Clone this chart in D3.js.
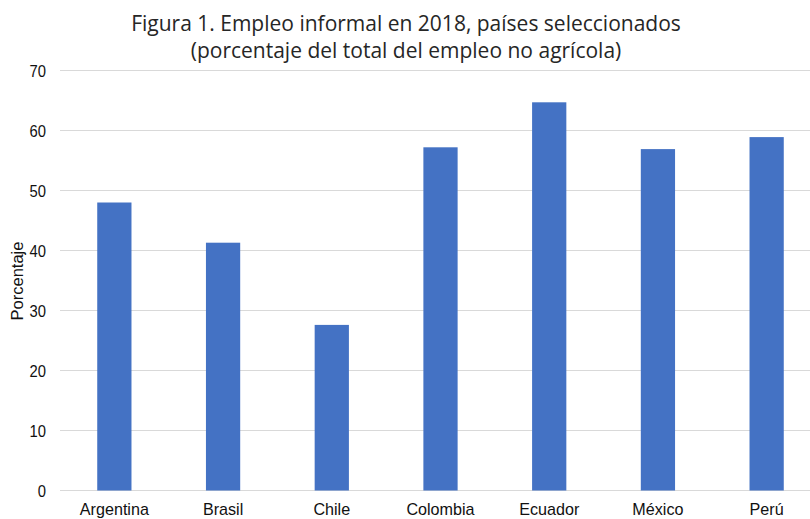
<!DOCTYPE html>
<html>
<head>
<meta charset="utf-8">
<script src="https://cdn.jsdelivr.net/npm/d3@7"></script>
<style>
  body { margin: 0; background: #fff; }
  svg { display: block; }
</style>
</head>
<body>
<div id="chart"></div>
<script>
// Data
const paises = ["Argentina", "Brasil", "Chile", "Colombia", "Ecuador", "México", "Perú"];
const valores = [48.0, 41.3, 27.6, 57.2, 64.7, 56.9, 58.9];
const yTicks = [0, 10, 20, 30, 40, 50, 60, 70];

const width = 810, height = 519;
const margin = { top: 70.5, right: -11, bottom: 28.5, left: 60 };

const svg = d3.select("#chart")
    .append("svg")
    .attr("width", width)
    .attr("height", height);

// title
const title = svg.append("text")
    .attr("x", 406)
    .attr("text-anchor", "middle")
    .style("font-family", "'Open Sans', sans-serif")
    .style("font-size", "21px")
    .style("fill", "#262626");
title.append("tspan").attr("x", 406).attr("y", 31).text("Figura 1. Empleo informal en 2018, países seleccionados");
title.append("tspan").attr("x", 406).attr("y", 58).text("(porcentaje del total del empleo no agrícola)");

const x = d3.scaleBand()
    .domain(paises)
    .range([margin.left, width - margin.right])
    .paddingInner(0.685)
    .paddingOuter(0.3425);

const y = d3.scaleLinear()
    .domain([0, 70])
    .range([height - margin.bottom, margin.top]);

// gridlines
svg.append("g")
    .selectAll("line")
    .data(yTicks)
    .join("line")
    .attr("x1", margin.left)
    .attr("x2", width)
    .attr("y1", d => y(d))
    .attr("y2", d => y(d))
    .attr("stroke", "#d9d9d9")
    .attr("stroke-width", 1);

// y labels (slightly condensed like the original)
svg.append("g")
    .selectAll("text")
    .data(yTicks)
    .join("text")
    .attr("transform", d => `translate(46,${y(d) + 6}) scale(0.87,1)`)
    .attr("text-anchor", "end")
    .style("font-family", "'Liberation Sans', Arial, sans-serif")
    .style("font-size", "17px")
    .style("fill", "#111")
    .text(d => d);

// bars
svg.append("g")
    .selectAll("rect")
    .data(paises)
    .join("rect")
    .attr("x", d => x(d))
    .attr("width", x.bandwidth())
    .attr("y", (d, i) => y(valores[i]))
    .attr("height", (d, i) => y(0) - y(valores[i]))
    .attr("fill", "#4472c4");

// x labels
svg.append("g")
    .selectAll("text")
    .data(paises)
    .join("text")
    .attr("transform", d => `translate(${x(d) + x.bandwidth() / 2},515) scale(0.95,1)`)
    .attr("text-anchor", "middle")
    .style("font-family", "'Liberation Sans', Arial, sans-serif")
    .style("font-size", "17px")
    .style("fill", "#111")
    .text(d => d);

// y axis title
svg.append("text")
    .attr("transform", "translate(23,281) rotate(-90)")
    .attr("text-anchor", "middle")
    .style("font-family", "'Liberation Sans', Arial, sans-serif")
    .style("font-size", "16.5px")
    .style("fill", "#111")
    .text("Porcentaje");
</script>
</body>
</html>
